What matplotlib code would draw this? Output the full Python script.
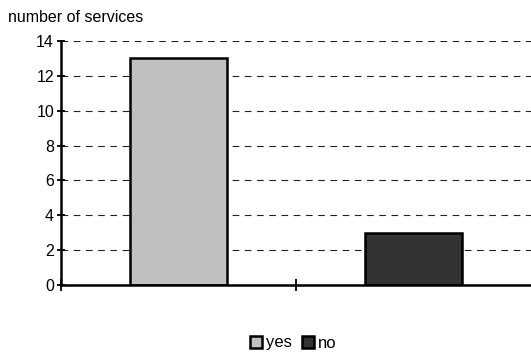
import matplotlib.pyplot as plt

plt.rcParams['font.family'] = ['Liberation Sans', 'DejaVu Sans']

categories = ['yes', 'no']
counts = [13, 3]
colors = ['#c0c0c0', '#333333']

fig = plt.figure(figsize=(5.31, 3.54), dpi=100)
ax = fig.add_axes([61 / 531, 69 / 354, 470 / 531, 244 / 354])

# one category slot per answer, ticks sit between the slots
bars = ax.bar(range(len(categories)), counts, width=0.41, color=colors,
              edgecolor='black', linewidth=1.8, label=categories, zorder=3)

ax.set_xlim(-0.5, 1.5)
ax.set_ylim(0, 14)
ax.set_yticks(range(0, 15, 2))
ax.set_xticks([-0.5, 0.5])
ax.set_xticklabels([])
ax.tick_params(axis='y', direction='inout', length=6, width=1.3, labelsize=11.5, pad=2)
ax.tick_params(axis='x', direction='inout', length=8, width=1.3)

ax.grid(axis='y', linestyle=(0, (6, 5)), color='#222222', linewidth=0.8, zorder=0)
for side in ('top', 'right'):
    ax.spines[side].set_visible(False)
for side in ('left', 'bottom'):
    ax.spines[side].set_linewidth(1.8)
    ax.spines[side].set_zorder(4)

fig.text(8 / 531, 1 - 18 / 354, 'number of services', fontsize=11.5, va='center')

fig.legend(handles=bars, labels=categories, loc='center',
           bbox_to_anchor=(293 / 531, 1 - 343 / 354), ncol=2, frameon=False,
           fontsize=12, handlelength=0.75, handleheight=0.75, handletextpad=0.2,
           columnspacing=0.6, borderpad=0)

fig.savefig('out.png', dpi=100)
